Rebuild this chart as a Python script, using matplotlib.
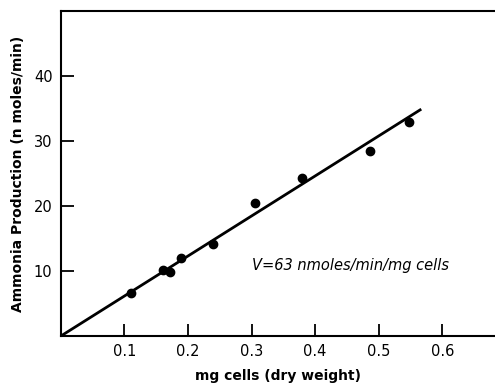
import matplotlib
matplotlib.use('Agg')
import matplotlib.pyplot as plt

mg_cells = [0.110, 0.160, 0.172, 0.189, 0.240, 0.305, 0.380, 0.487, 0.547]
ammonia = [6.6, 10.2, 9.8, 12.0, 14.1, 20.5, 24.3, 28.5, 32.9]

# fitted line end points
fit_x = [0.0, 0.567]
fit_y = [0.0, 34.9]

x_ticks = [0.1, 0.2, 0.3, 0.4, 0.5, 0.6]
x_labels = ['0.1', '0.2', '0.3', '0.4', '0.5', '0.6']
y_ticks = [10, 20, 30, 40]

plt.rcParams['font.family'] = 'DejaVu Sans'

fig = plt.figure(figsize=(4.95, 3.86), dpi=100)
ax = fig.add_axes([0.123, 0.1295, 0.877, 0.842])

ax.plot(fit_x, fit_y, color='black', lw=2.0, solid_capstyle='butt')
ax.plot(mg_cells, ammonia, 'o', color='black', markersize=6)

ax.set_xlim(0, 0.683)
ax.set_ylim(0, 50)
ax.set_xticks(x_ticks)
ax.set_xticklabels(x_labels)
ax.set_yticks(y_ticks)
ax.tick_params(direction='in', length=9, width=1.3, labelsize=10.5, pad=6)

for side in ['left', 'bottom', 'top']:
    ax.spines[side].set_linewidth(1.5)
ax.spines['right'].set_visible(False)

ax.set_xlabel('mg cells (dry weight)', fontsize=10, fontweight='bold', labelpad=7)
ax.set_ylabel('Ammonia Production (n moles/min)', fontsize=10, fontweight='bold', labelpad=6)

ax.text(0.30, 10.9, 'V=63 nmoles/min/mg cells', fontsize=10.5, style='italic', va='center')

fig.savefig('out.png', dpi=100)
